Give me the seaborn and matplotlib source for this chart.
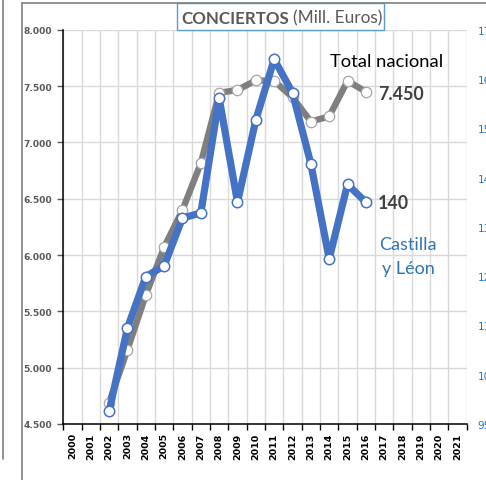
import matplotlib
matplotlib.use("Agg")
import matplotlib.pyplot as plt
from matplotlib.lines import Line2D
from matplotlib.patches import Rectangle
from matplotlib.ticker import FixedLocator, FuncFormatter
import seaborn as sns
import pandas as pd

# ---- data ----
years = list(range(2002, 2017))
total_nacional = [4690, 5160, 5645, 6070, 6400, 6815, 7440, 7465, 7550, 7545, 7400, 7185, 7230, 7545, 7450]
castilla_leon = [97.6, 114.5, 124.9, 127.1, 136.8, 137.8, 161.1, 140.0, 156.7, 169.0, 162.2, 147.8, 128.5, 143.6, 140.0]
axis_years = list(range(2000, 2022))
left_ticks = [4500, 5000, 5500, 6000, 6500, 7000, 7500, 8000]
right_ticks = [95, 105, 115, 125, 135, 145, 155, 165, 175]

df_tot = pd.DataFrame({"year": years, "value": total_nacional})
df_cyl = pd.DataFrame({"year": years, "value": castilla_leon})

sns.set_style("white")
plt.rcParams["font.family"] = ["DejaVu Sans"]

W, H = 486, 481
fig = plt.figure(figsize=(W / 100, H / 100), dpi=100)
fig.patch.set_facecolor("white")

def fx(x):
    return x / W

def fy(y):
    return 1 - y / H

L, R, T, B = 63.3, 466.7, 30.7, 425.0
ax = fig.add_axes([fx(L), fy(B), (R - L) / W, (B - T) / H])
ax2 = ax.twinx()

GRAY = "#7F7F7F"
BLUE = "#4472C4"
LBLUE = "#2E75B6"

sns.lineplot(data=df_tot, x="year", y="value", ax=ax, color=GRAY, linewidth=4.6,
             marker="o", markersize=7.5, markerfacecolor="white",
             markeredgecolor="#A6A6A6", markeredgewidth=0.9, zorder=3)
sns.lineplot(data=df_cyl, x="year", y="value", ax=ax2, color=BLUE, linewidth=5.2,
             marker="o", markersize=7.5, markerfacecolor="white",
             markeredgecolor=BLUE, markeredgewidth=1.1, zorder=3)

ax.set_xlim(axis_years[0] - 0.5, axis_years[-1] + 0.5)
ax.set_ylim(left_ticks[0], left_ticks[-1])
ax2.set_ylim(right_ticks[0], right_ticks[-1])

# x axis: labels at category centers, ticks/grid at boundaries
ax.xaxis.set_major_locator(FixedLocator(axis_years))
ax.set_xticklabels([str(y) for y in axis_years], rotation=90, fontsize=6.8,
                   fontweight="bold", color="black")
bounds = [y - 0.5 for y in axis_years] + [axis_years[-1] + 0.5]
ax.xaxis.set_minor_locator(FixedLocator(bounds))
ax.tick_params(axis="x", which="major", length=0, pad=6)
ax.tick_params(axis="x", which="minor", length=4, width=1, color="black", direction="out", bottom=True)
ax.grid(True, axis="x", which="minor", color="#D9D9D9", linewidth=1)
ax.grid(False, axis="x", which="major")

ax.yaxis.set_major_locator(FixedLocator(left_ticks))
ax.yaxis.set_major_formatter(FuncFormatter(lambda v, p: f"{int(v):,}".replace(",", ".")))
ax.tick_params(axis="y", which="major", length=4, width=1, color="#595959", direction="out",
               left=True, labelsize=6.6, labelcolor="#595959", pad=4)
for lab in ax.get_yticklabels():
    lab.set_fontweight("bold")
ax.grid(True, axis="y", which="major", color="#D9D9D9", linewidth=1)

ax2.yaxis.set_major_locator(FixedLocator(right_ticks))
ax2.tick_params(axis="y", length=0, labelsize=7.5, labelcolor=LBLUE, pad=8)
ax2.grid(False)

for a in (ax, ax2):
    a.set_xlabel("")
    a.set_ylabel("")
    a.set_facecolor("none")
    for s in a.spines.values():
        s.set_visible(False)
ax.set_facecolor("white")
ax.spines["left"].set_visible(True)
ax.spines["left"].set_color("black")
ax.spines["left"].set_linewidth(1.1)
ax.spines["bottom"].set_visible(True)
ax.spines["bottom"].set_color("black")
ax.spines["bottom"].set_linewidth(1.1)

# frame lines (screenshot borders)
fig.add_artist(Line2D([fx(3), fx(3)], [fy(0), fy(460)], color="#7F7F7F", linewidth=1.2))
fig.add_artist(Line2D([fx(22), fx(22)], [fy(3.5), fy(481)], color="#7F7F7F", linewidth=1.2))
fig.add_artist(Line2D([fx(22), fx(486)], [fy(3.5), fy(3.5)], color="#7F7F7F", linewidth=1.2))

# title box
fig.add_artist(Rectangle((fx(177), fy(31)), (384 - 177) / W, (31 - 4) / H,
                         facecolor="white", edgecolor="#5B9BD5", linewidth=1.0,
                         transform=fig.transFigure))
t1 = fig.text(fx(181), fy(23.5), "CONCIERTOS", family="Lato", fontweight="bold",
              fontsize=12.2, color="#595959", va="baseline", ha="left")
fig.canvas.draw()
bb = t1.get_window_extent()
fig.text(bb.x1 / W + fx(4), fy(23.5), "(Mill. Euros)", family="Lato",
         fontsize=12.4, color="#595959", va="baseline", ha="left")

# annotations
fig.text(fx(386.5), fy(67), "Total nacional", family="Lato", fontsize=13.2,
         color="black", ha="center", va="baseline")
fig.text(fx(378), fy(100), "7.450", family="Lato", fontweight="bold", fontsize=12.8,
         color="#404040", ha="left", va="baseline")
fig.text(fx(378), fy(209), "140", family="Lato", fontweight="bold", fontsize=12.8,
         color="#404040", ha="left", va="baseline")
fig.text(fx(408), fy(250), "Castilla", family="Lato", fontsize=13,
         color=LBLUE, ha="center", va="baseline")
fig.text(fx(408), fy(274), "y Léon", family="Lato", fontsize=13,
         color=LBLUE, ha="center", va="baseline")

fig.savefig("out.png", dpi=100, facecolor="white")
